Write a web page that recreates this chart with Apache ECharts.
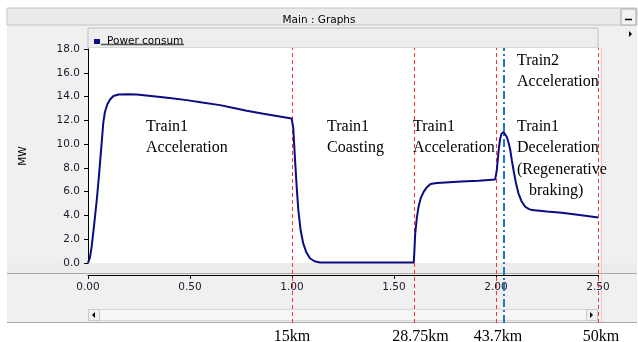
<!DOCTYPE html>
<html>
<head>
<meta charset="utf-8">
<script src="https://cdn.jsdelivr.net/npm/echarts/dist/echarts.min.js"></script>
<style>
  html, body { margin: 0; padding: 0; background: #fff; }
  #main { width: 638px; height: 342px; }
</style>
</head>
<body>
<div id="main"></div>
<script>
// time axis (h) and power drawn (MW)
var hours = [0, 0.01, 0.018, 0.03, 0.043, 0.055, 0.067, 0.075, 0.083, 0.095, 0.108, 0.125, 0.149, 0.2, 0.239,
  0.32, 0.4, 0.484, 0.56, 0.647, 0.72, 0.778, 0.86, 0.94, 0.998, 1.006, 1.015, 1.023, 1.031, 1.042, 1.055,
  1.07, 1.088, 1.11, 1.137, 1.597, 1.6, 1.604, 1.612, 1.62, 1.632, 1.646, 1.66, 1.679, 1.71, 1.752, 1.83,
  1.915, 1.996, 2.004, 2.013, 2.02, 2.026, 2.037, 2.045, 2.053, 2.062, 2.07, 2.078, 2.086, 2.098, 2.11,
  2.125, 2.143, 2.16, 2.176, 2.25, 2.322, 2.4, 2.493, 2.5];
var powerMW = [0, 0.5, 1.4, 3.2, 5.3, 7.6, 10.1, 11.8, 12.7, 13.35, 13.75, 14.05, 14.17, 14.2, 14.17,
  14.03, 13.88, 13.7, 13.5, 13.28, 13.02, 12.8, 12.55, 12.33, 12.16, 11.4, 8.65, 6.4, 4.45, 2.8, 1.65,
  0.9, 0.4, 0.15, 0.05, 0.05, 1.0, 2.5, 3.8, 4.7, 5.5, 6.0, 6.35, 6.64, 6.72, 6.78, 6.85,
  6.92, 7.03, 7.8, 9.5, 10.4, 10.84, 11.03, 10.9, 10.6, 10.1, 9.5, 8.6, 7.8, 6.7, 5.86,
  5.2, 4.73, 4.55, 4.45, 4.33, 4.23, 4.05, 3.84, 3.82];

// phase boundaries (red dashed) and their distance labels
var phaseBounds = [1.0, 1.6, 2.005, 2.5];
var phaseKm = ['15km', '28.75km', '43.7km', '50km'];
var kmLabelShift = [0, 6, 2, 3];
// train 2 start (blue dash-dot)
var train2Start = 2.04;

var xTicks = [0, 0.5, 1.0, 1.5, 2.0, 2.5];
var yMin = 0, yMax = 18, yStep = 2;

var curve = hours.map(function (h, i) { return [h, powerMW[i]]; });

var serif = '"Liberation Serif", "DejaVu Serif", serif';
var sans = '"DejaVu Sans", sans-serif';

var markData = phaseBounds.map(function (x, i) {
  return {
    xAxis: x,
    lineStyle: { color: '#ff3333', width: 1, type: [4, 3] },
    label: {
      show: true, position: 'start', distance: 6, formatter: phaseKm[i],
      offset: [kmLabelShift[i], 0],
      color: '#000', fontFamily: serif, fontSize: 16
    }
  };
});
markData.push({
  xAxis: train2Start,
  lineStyle: { color: '#1f78c8', width: 2, type: [8, 3, 2, 3] },
  label: { show: false }
});

function note(x, y, text) {
  return {
    type: 'text', left: x, top: y, z: 20,
    style: { text: text, fill: '#000', font: '16px ' + serif, lineHeight: 21.5 }
  };
}

var chart = echarts.init(document.getElementById('main'));
chart.setOption({
  animation: false,
  backgroundColor: '#fff',
  title: {
    text: 'Main : Graphs', left: 'center', top: 10,
    textStyle: { fontFamily: sans, fontSize: 10.5, fontWeight: 'normal', color: '#000' }
  },
  legend: {
    data: ['Power consum'], left: 89, top: 31,
    icon: 'rect', itemWidth: 6, itemHeight: 5, selectedMode: false,
    textStyle: { fontFamily: sans, fontSize: 10.5, color: '#000', padding: [0, 0, 0, 2] }
  },
  grid: [
    { left: 88, top: 49, width: 510, height: 214 },
    { left: 88, top: 48, width: 510, height: 275, show: false }
  ],
  xAxis: [{
    gridIndex: 0, type: 'value', min: 0, max: 2.5, interval: 0.5, offset: 12,
    axisLine: { onZero: false, lineStyle: { color: '#000', width: 1 } },
    axisTick: { length: 4, lineStyle: { color: '#000' } },
    splitLine: { show: false },
    axisLabel: {
      margin: 7, fontFamily: sans, fontSize: 10.5, color: '#1a1a2a',
      customValues: xTicks,
      formatter: function (v) { return v.toFixed(2); }
    }
  }, {
    gridIndex: 1, type: 'value', min: 0, max: 2.5, show: false
  }],
  yAxis: [{
    gridIndex: 0, type: 'value', min: yMin, max: yMax, interval: yStep,
    name: 'MW', nameLocation: 'middle', nameRotate: 90, nameGap: 59,
    nameTextStyle: { fontFamily: sans, fontSize: 10.5, color: '#000' },
    axisLine: { show: true, onZero: false, lineStyle: { color: '#000', width: 1 } },
    axisTick: { show: true, length: 4, lineStyle: { color: '#000' } },
    splitLine: { show: false },
    axisLabel: {
      margin: 8, fontFamily: sans, fontSize: 10.5, color: '#1a1a2a',
      formatter: function (v) { return v.toFixed(1); }
    }
  }, {
    gridIndex: 1, type: 'value', min: 0, max: 1, show: false
  }],
  series: [{
    name: 'Power consum', type: 'line', xAxisIndex: 0, yAxisIndex: 0,
    data: curve, showSymbol: false, symbol: 'none', z: 5,
    lineStyle: { color: '#0b0b82', width: 2 },
    itemStyle: { color: '#0b0b82' }
  }, {
    name: 'bounds', type: 'line', xAxisIndex: 1, yAxisIndex: 1,
    data: [[0, 0]], showSymbol: false, symbol: 'none', z: 3,
    lineStyle: { opacity: 0 },
    markLine: { symbol: ['none', 'none'], silent: true, animation: false, data: markData }
  }],
  graphic: [
    // window panel
    { type: 'rect', z: -10, shape: { x: 7, y: 8, width: 630, height: 315 }, style: { fill: '#f0f0f0' } },
    { type: 'rect', z: -9, shape: { x: 7, y: 8, width: 630, height: 17 },
      style: { fill: '#ebebeb', stroke: '#c4c4c4', lineWidth: 1 } },
    { type: 'rect', z: -8, shape: { x: 621, y: 9, width: 15, height: 16 },
      style: { fill: '#f2f2f2', stroke: '#a8a8a8', lineWidth: 1 } },
    { type: 'line', z: -7, shape: { x1: 625, y1: 19.5, x2: 632, y2: 19.5 }, style: { stroke: '#000', lineWidth: 1.5 } },
    // legend strip
    { type: 'rect', z: -9, shape: { x: 88, y: 28, width: 510, height: 20 },
      style: { fill: '#eeeeee', stroke: '#c0c0c0', lineWidth: 1 } },
    { type: 'line', z: -7, shape: { x1: 101, y1: 44.5, x2: 184, y2: 44.5 }, style: { stroke: '#555', lineWidth: 1.5 } },
    { type: 'polygon', z: -7, shape: { points: [[629, 31], [629, 37], [632, 34]] }, style: { fill: '#000' } },
    // plot area
    { type: 'rect', z: -8, shape: { x: 88, y: 48, width: 512, height: 215 }, style: { fill: '#fff' } },
    { type: 'rect', z: -8, shape: { x: 7, y: 263, width: 630, height: 11 }, style: { fill: '#ececec' } },
    { type: 'line', z: -7, shape: { x1: 7, y1: 273.5, x2: 637, y2: 273.5 }, style: { stroke: '#a8a8a8', lineWidth: 1 } },
    { type: 'line', z: -7, shape: { x1: 601.5, y1: 48, x2: 601.5, y2: 323 }, style: { stroke: '#d4d4d4', lineWidth: 1 } },
    // scroll bar
    { type: 'rect', z: -7, shape: { x: 88.5, y: 309.5, width: 509, height: 11 },
      style: { fill: '#f8f8f8', stroke: '#d6d6d6', lineWidth: 1 } },
    { type: 'rect', z: -6, shape: { x: 88.5, y: 309.5, width: 11, height: 11 },
      style: { fill: '#f0f0f0', stroke: '#c8c8c8', lineWidth: 1 } },
    { type: 'rect', z: -6, shape: { x: 586.5, y: 309.5, width: 11, height: 11 },
      style: { fill: '#f0f0f0', stroke: '#c8c8c8', lineWidth: 1 } },
    { type: 'polygon', z: -5, shape: { points: [[95, 312], [95, 318], [92, 315]] }, style: { fill: '#000' } },
    { type: 'polygon', z: -5, shape: { points: [[590, 312], [590, 318], [593, 315]] }, style: { fill: '#000' } },
    { type: 'line', z: -7, shape: { x1: 7, y1: 322.5, x2: 637, y2: 322.5 }, style: { stroke: '#a8a8a8', lineWidth: 1 } },
    // phase annotations
    note(146, 116, 'Train1\nAcceleration'),
    note(327, 116, 'Train1\nCoasting'),
    note(413, 116, 'Train1\nAcceleration'),
    note(517, 50, 'Train2\nAcceleration'),
    note(517, 116, 'Train1\nDeceleration\n(Regenerative\n   braking)')
  ]
});
</script>
</body>
</html>
